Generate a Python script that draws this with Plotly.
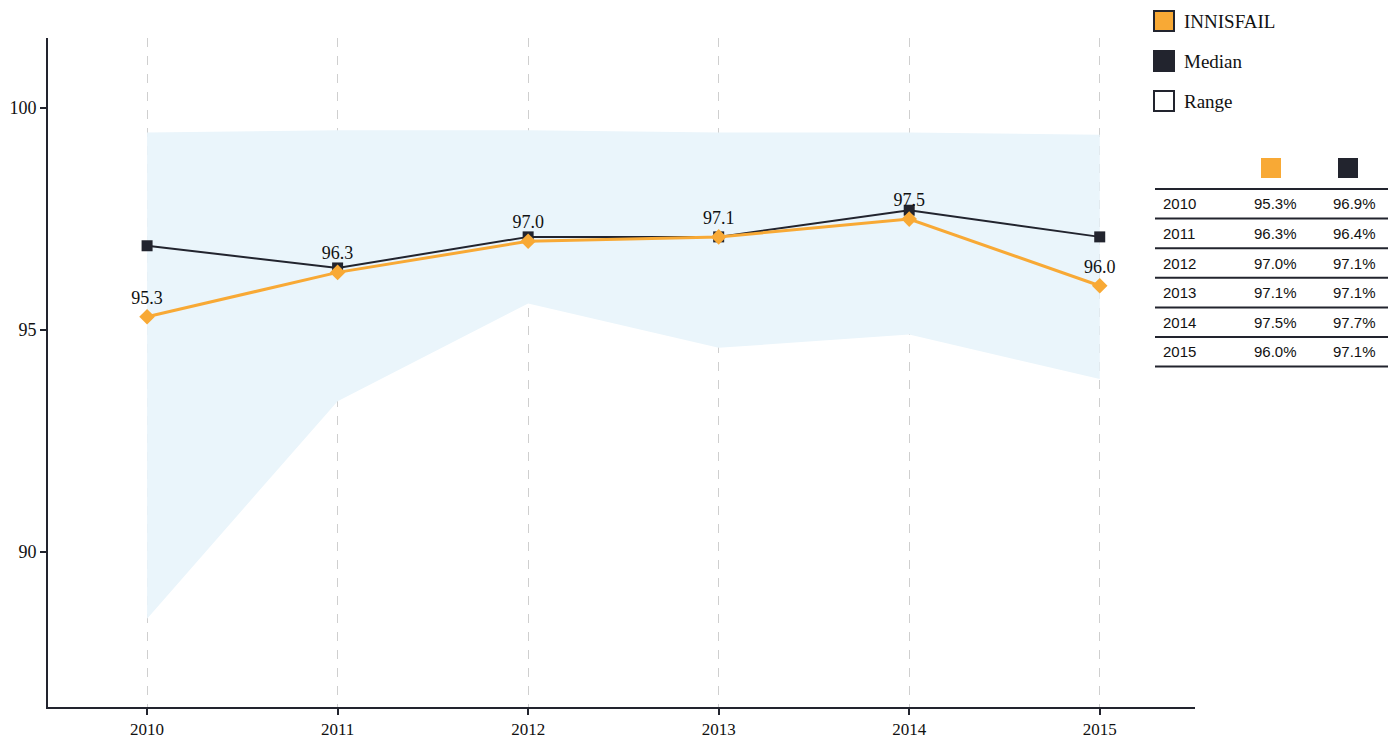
import plotly.graph_objects as go

# ---------------- data ----------------
years = [2010, 2011, 2012, 2013, 2014, 2015]
innisfail = [95.3, 96.3, 97.0, 97.1, 97.5, 96.0]
median = [96.9, 96.4, 97.1, 97.1, 97.7, 97.1]
range_upper = [99.45, 99.5, 99.5, 99.45, 99.45, 99.4]
range_lower = [88.5, 93.4, 95.6, 94.6, 94.9, 93.9]
legend_labels = ["INNISFAIL", "Median", "Range"]

# ---------------- style ----------------
W, H = 1398, 740
ML, MR, MT, MB = 48, 203, 38, 33
ORANGE = "#F8A935"
DARK = "#22242E"
BAND = "#EAF5FB"
SERIF = "Liberation Serif"
SANS = "Liberation Sans"

pw = W - ML - MR
ph = H - MT - MB


def px(x):
    return (x - ML) / pw


def py(y):
    return (H - MB - y) / ph


fig = go.Figure()

# range band
fig.add_trace(go.Scatter(x=years, y=range_upper, mode="lines", line=dict(width=0),
                         hoverinfo="skip", showlegend=False))
fig.add_trace(go.Scatter(x=years, y=range_lower, mode="lines", line=dict(width=0),
                         fill="tonexty", fillcolor=BAND, hoverinfo="skip", showlegend=False))

# median
fig.add_trace(go.Scatter(x=years, y=median, mode="lines+markers", name="Median",
                         line=dict(color=DARK, width=2),
                         marker=dict(symbol="square", size=11, color=DARK),
                         showlegend=False))

# innisfail
fig.add_trace(go.Scatter(x=years, y=innisfail, mode="lines+markers+text", name="INNISFAIL",
                         line=dict(color=ORANGE, width=3),
                         marker=dict(symbol="diamond", size=12, color=ORANGE),
                         text=[f"{v:.1f}" for v in innisfail],
                         textposition="top center",
                         textfont=dict(family=SERIF, size=18, color="#111"),
                         showlegend=False))

shapes = []
annotations = []

# legend (manual)
leg_fill = [ORANGE, DARK, "white"]
for i, lab in enumerate(legend_labels):
    cy = 21 + 40 * i
    shapes.append(dict(type="rect", xref="paper", yref="paper",
                       x0=px(1154), x1=px(1174), y0=py(cy - 10), y1=py(cy + 10),
                       fillcolor=leg_fill[i], line=dict(color=DARK, width=2)))
    annotations.append(dict(xref="paper", yref="paper", x=px(1182), y=py(cy),
                            xanchor="left", yanchor="middle", text=lab, showarrow=False,
                            font=dict(family=SERIF, size=19, color="#111")))

# table (manual)
shapes.append(dict(type="rect", xref="paper", yref="paper",
                   x0=px(1261), x1=px(1281), y0=py(158), y1=py(178),
                   fillcolor=ORANGE, line=dict(width=0)))
shapes.append(dict(type="rect", xref="paper", yref="paper",
                   x0=px(1338), x1=px(1358), y0=py(158), y1=py(178),
                   fillcolor=DARK, line=dict(width=0)))
row_top = 189
row_h = 29.6
for k in range(len(years) + 1):
    yy = row_top + k * row_h
    shapes.append(dict(type="line", xref="paper", yref="paper",
                       x0=px(1155), x1=px(1388), y0=py(yy), y1=py(yy),
                       line=dict(color=DARK, width=2)))
for k, yr in enumerate(years):
    cy = row_top + (k + 0.5) * row_h
    annotations.append(dict(xref="paper", yref="paper", x=px(1161), y=py(cy),
                            xanchor="left", yanchor="middle", text=str(yr), showarrow=False,
                            font=dict(family=SANS, size=15, color="#111")))
    annotations.append(dict(xref="paper", yref="paper", x=px(1299), y=py(cy),
                            xanchor="right", yanchor="middle", text=f"{innisfail[k]:.1f}%",
                            showarrow=False, font=dict(family=SANS, size=15, color="#111")))
    annotations.append(dict(xref="paper", yref="paper", x=px(1378), y=py(cy),
                            xanchor="right", yanchor="middle", text=f"{median[k]:.1f}%",
                            showarrow=False, font=dict(family=SANS, size=15, color="#111")))

fig.update_layout(
    width=W, height=H, autosize=False,
    margin=dict(l=ML, r=MR, t=MT, b=MB, pad=0, autoexpand=False),
    paper_bgcolor="white", plot_bgcolor="white",
    shapes=shapes, annotations=annotations,
    showlegend=False,
    xaxis=dict(range=[2009.48, 2015.5], tickvals=years, ticktext=[str(y) for y in years],
               showgrid=True, gridcolor="#cfcfcf", griddash="dash", gridwidth=1,
               showline=True, linecolor=DARK, linewidth=2, automargin=False,
               ticks="outside", ticklen=6, tickwidth=2, tickcolor=DARK,
               ticklabelstandoff=0,
               tickfont=dict(family=SERIF, size=17, color="#111"), zeroline=False),
    yaxis=dict(range=[86.51, 101.58], tickvals=[90, 95, 100],
               showgrid=False, showline=True, linecolor=DARK, linewidth=2, automargin=False,
               ticks="outside", ticklen=6, tickwidth=2, tickcolor=DARK,
               tickfont=dict(family=SERIF, size=18, color="#111"), zeroline=False),
)

fig.write_html("out.html", config={"displayModeBar": False},
               post_script="document.body.style.margin='0';")
